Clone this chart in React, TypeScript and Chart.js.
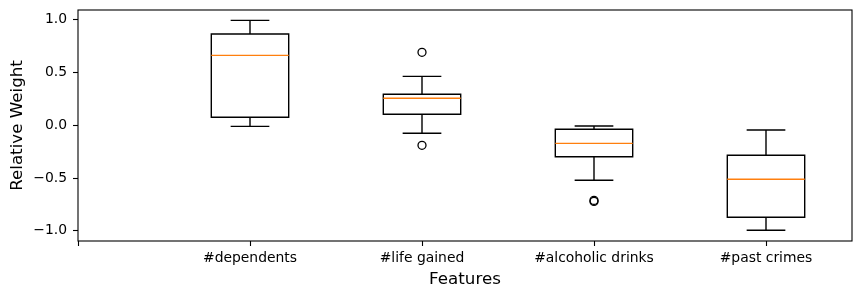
import React, { useEffect, useRef } from "react";
import { Chart, registerables } from "chart.js";
Chart.register(...registerables);

const categories = ["", "#dependents", "#life gained", "#alcoholic drinks", "#past crimes"];
const xTicks = [0, 1, 2, 3, 4];
const yTicks = [-1, -0.5, 0, 0.5, 1];
const positions = [1, 2, 3, 4];
const whiskerLow = [-0.01, -0.076, -0.521, -0.995];
const q1 = [0.076, 0.104, -0.298, -0.872];
const median = [0.663, 0.256, -0.171, -0.512];
const q3 = [0.865, 0.294, -0.038, -0.284];
const whiskerHigh = [0.995, 0.464, -0.007, -0.045];
const outlierPos = [2, 2, 3, 3];
const outlierVal = [0.692, -0.19, -0.712, -0.722];

const BOX_WIDTH = 0.45;
const FONT = "'DejaVu Sans', sans-serif";

const boxPlugin = {
  id: "boxes",
  beforeDatasetsDraw(chart: any) {
    const { ctx, scales } = chart;
    const x = scales.x;
    const y = scales.y;
    const half = (x.getPixelForValue(BOX_WIDTH) - x.getPixelForValue(0)) / 2;
    ctx.save();
    ctx.lineWidth = 1.4;
    positions.forEach((p, i) => {
      const cx = x.getPixelForValue(p);
      const yq1 = y.getPixelForValue(q1[i]);
      const yq3 = y.getPixelForValue(q3[i]);
      const ylo = y.getPixelForValue(whiskerLow[i]);
      const yhi = y.getPixelForValue(whiskerHigh[i]);
      const ym = y.getPixelForValue(median[i]);
      ctx.strokeStyle = "#000";
      ctx.beginPath();
      ctx.rect(cx - half, yq3, 2 * half, yq1 - yq3);
      ctx.moveTo(cx, yq1);
      ctx.lineTo(cx, ylo);
      ctx.moveTo(cx, yq3);
      ctx.lineTo(cx, yhi);
      ctx.moveTo(cx - half / 2, ylo);
      ctx.lineTo(cx + half / 2, ylo);
      ctx.moveTo(cx - half / 2, yhi);
      ctx.lineTo(cx + half / 2, yhi);
      ctx.stroke();
      ctx.strokeStyle = "#ff7f0e";
      ctx.beginPath();
      ctx.moveTo(cx - half, ym);
      ctx.lineTo(cx + half, ym);
      ctx.stroke();
    });
    ctx.restore();
  },
  afterDraw(chart: any) {
    const { ctx, chartArea } = chart;
    ctx.save();
    ctx.strokeStyle = "#000";
    ctx.lineWidth = 1.1;
    ctx.strokeRect(chartArea.left, chartArea.top, chartArea.right - chartArea.left, chartArea.bottom - chartArea.top);
    ctx.restore();
  },
};

export default function App() {
  const ref = useRef<HTMLCanvasElement | null>(null);
  useEffect(() => {
    document.body.style.margin = "0";
    const canvas = ref.current!;
    const chart = new Chart(canvas, {
      type: "scatter",
      data: {
        datasets: [
          {
            data: outlierPos.map((p, i) => ({ x: p, y: outlierVal[i] })),
            pointStyle: "circle",
            pointRadius: 4,
            pointBorderColor: "#000",
            pointBackgroundColor: "rgba(0,0,0,0)",
            pointBorderWidth: 1.3,
            showLine: false,
          },
        ],
      },
      options: {
        animation: false,
        responsive: false,
        events: [],
        layout: { padding: { top: 10, right: 9, left: 0, bottom: 0 } },
        plugins: { legend: { display: false }, tooltip: { enabled: false } },
        scales: {
          x: {
            type: "linear",
            min: 0,
            max: 4.5,
            afterFit: (s: any) => {
              s.height = 57;
              s.paddingLeft = 0;
              s.paddingRight = 0;
            },
            afterBuildTicks: (s: any) => {
              s.ticks = xTicks.map((v) => ({ value: v }));
            },
            grid: { drawOnChartArea: false, tickLength: 5, tickColor: "#000", tickWidth: 1.1 },
            border: { display: false },
            ticks: {
              autoSkip: false,
              maxRotation: 0,
              padding: 4,
              color: "#000",
              font: { family: FONT, size: 13.9 },
              callback: (v: any) => categories[v] ?? "",
            },
            title: {
              display: true,
              text: "Features",
              color: "#000",
              font: { family: FONT, size: 16.7 },
              padding: { top: 0, bottom: 8 },
            },
          },
          y: {
            min: -1.097,
            max: 1.093,
            afterFit: (s: any) => {
              s.width = 78;
              s.paddingTop = 0;
              s.paddingBottom = 0;
            },
            afterBuildTicks: (s: any) => {
              s.ticks = yTicks.map((v) => ({ value: v }));
            },
            grid: { drawOnChartArea: false, tickLength: 5, tickColor: "#000", tickWidth: 1.1 },
            border: { display: false },
            ticks: {
              padding: 6,
              color: "#000",
              font: { family: FONT, size: 13.9 },
              callback: (v: any) => {
                const s = Number(v).toFixed(1);
                return s.replace("-", "\u2212");
              },
            },
            title: {
              display: true,
              text: "Relative Weight",
              color: "#000",
              font: { family: FONT, size: 16.7 },
              padding: { top: 8, bottom: 0 },
            },
          },
        },
      },
      plugins: [boxPlugin],
    } as any);
    return () => chart.destroy();
  }, []);
  return <canvas ref={ref} width={861} height={298} style={{ display: "block", width: 861, height: 298 }} />;
}
